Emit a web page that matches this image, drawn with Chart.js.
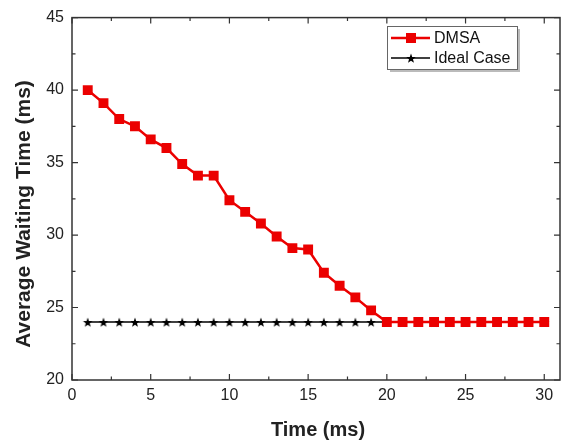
<!DOCTYPE html>
<html>
<head>
<meta charset="utf-8">
<script src="https://cdn.jsdelivr.net/npm/chart.js@4.4.1/dist/chart.umd.min.js"></script>
<style>
  body { margin: 0; background: #fff; }
  #wrap { width: 570px; height: 443px; }
</style>
</head>
<body>
<div id="wrap"><canvas id="chart"></canvas></div>
<script>
// data
var timeMs = [1, 2, 3, 4, 5, 6, 7, 8, 9, 10, 11, 12, 13, 14, 15, 16, 17, 18, 19, 20, 21, 22, 23, 24, 25, 26, 27, 28, 29, 30];
var dmsaValues = [40, 39.1, 38, 37.5, 36.6, 36, 34.9, 34.1, 34.1, 32.4, 31.6, 30.8, 29.9, 29.1, 29.0, 27.4, 26.5, 25.7, 24.8,
    24, 24, 24, 24, 24, 24, 24, 24, 24, 24, 24];
var idealValues = [24, 24, 24, 24, 24, 24, 24, 24, 24, 24, 24, 24, 24, 24, 24, 24, 24, 24, 24,
    24, 24, 24, 24, 24, 24, 24, 24, 24, 24, 24];
var xTicks = [0, 5, 10, 15, 20, 25, 30];
var yTicks = [20, 25, 30, 35, 40, 45];

var redColor = 'rgb(235, 0, 0)';
var blackColor = '#000';
var fontFamily = '"Liberation Sans", Arial, sans-serif';

// filled five point star for the ideal case markers
function makeStar(r) {
    var c = document.createElement('canvas');
    c.width = c.height = r * 2 + 2;
    var g = c.getContext('2d');
    g.fillStyle = blackColor;
    g.beginPath();
    for (var i = 0; i < 10; i++) {
        var rad = i % 2 === 0 ? r : r * 0.42;
        var a = -Math.PI / 2 + i * Math.PI / 5;
        var px = c.width / 2 + rad * Math.cos(a);
        var py = c.height / 2 + 0.6 + rad * Math.sin(a);
        if (i === 0) g.moveTo(px, py); else g.lineTo(px, py);
    }
    g.closePath();
    g.fill();
    return c;
}
var starImg = makeStar(5);

function points(xs, ys) {
    var out = [];
    for (var i = 0; i < xs.length; i++) out.push({x: xs[i], y: ys[i]});
    return out;
}

// box frame, inward ticks on all four sides, axis titles and the inside legend
var framePlugin = {
    id: 'frame',
    afterDatasetsDraw: function (chart) {
        var ctx = chart.ctx, a = chart.chartArea;
        var xs = chart.scales.x, ys = chart.scales.y;
        ctx.save();
        ctx.strokeStyle = '#333';
        ctx.lineWidth = 1.5;
        ctx.strokeRect(a.left, a.top, a.right - a.left, a.bottom - a.top);
        ctx.lineWidth = 1.2;
        ctx.beginPath();
        for (var v = 0; v <= 30; v += 2.5) {
            var px = xs.getPixelForValue(v);
            var len = v % 5 === 0 ? 6 : 3.5;
            ctx.moveTo(px, a.bottom); ctx.lineTo(px, a.bottom - len);
            ctx.moveTo(px, a.top); ctx.lineTo(px, a.top + len);
        }
        for (var w = 20; w <= 45; w += 2.5) {
            var py = ys.getPixelForValue(w);
            var l2 = w % 5 === 0 ? 6 : 3.5;
            ctx.moveTo(a.left, py); ctx.lineTo(a.left + l2, py);
            ctx.moveTo(a.right, py); ctx.lineTo(a.right - l2, py);
        }
        ctx.stroke();

        // axis titles
        ctx.fillStyle = '#222';
        ctx.textAlign = 'center';
        ctx.textBaseline = 'middle';
        ctx.font = 'bold 20px ' + fontFamily;
        ctx.fillText('Time (ms)', 318, 430);
        ctx.save();
        ctx.translate(24, 214);
        ctx.rotate(-Math.PI / 2);
        ctx.font = 'bold 21px ' + fontFamily;
        ctx.fillText('Average Waiting Time (ms)', 0, 0);
        ctx.restore();

        // legend
        var bx = 387, by = 26, bw = 130, bh = 43;
        ctx.textAlign = 'left';
        ctx.fillStyle = '#bbb';
        ctx.fillRect(bx + 3, by + 3, bw, bh);
        ctx.fillStyle = '#fff';
        ctx.fillRect(bx, by, bw, bh);
        ctx.strokeStyle = '#666';
        ctx.lineWidth = 1;
        ctx.strokeRect(bx + 0.5, by + 0.5, bw, bh);

        ctx.font = '16px ' + fontFamily;
        ctx.fillStyle = '#111';
        // DMSA row
        ctx.strokeStyle = redColor;
        ctx.lineWidth = 2.5;
        ctx.beginPath(); ctx.moveTo(391, 38); ctx.lineTo(430, 38); ctx.stroke();
        ctx.fillStyle = redColor;
        ctx.fillRect(406, 33, 10, 10);
        ctx.fillStyle = '#111';
        ctx.fillText('DMSA', 434, 39);
        // Ideal row
        ctx.strokeStyle = blackColor;
        ctx.lineWidth = 1.5;
        ctx.beginPath(); ctx.moveTo(391, 58); ctx.lineTo(430, 58); ctx.stroke();
        ctx.drawImage(starImg, 411 - starImg.width / 2, 58 - starImg.height / 2);
        ctx.fillText('Ideal Case', 434, 59);
        ctx.restore();
    }
};

new Chart(document.getElementById('chart').getContext('2d'), {
    type: 'line',
    data: {
        datasets: [{
            label: 'DMSA',
            data: points(timeMs, dmsaValues),
            borderColor: redColor,
            backgroundColor: redColor,
            borderWidth: 2.5,
            pointStyle: 'rect',
            pointRadius: 7,
            pointBorderWidth: 0,
            pointBackgroundColor: redColor,
            tension: 0
        }, {
            label: 'Ideal Case',
            data: points(timeMs, idealValues),
            borderColor: blackColor,
            borderWidth: 1.5,
            pointStyle: starImg,
            tension: 0
        }]
    },
    options: {
        responsive: true,
        maintainAspectRatio: false,
        animation: false,
        layout: {padding: {top: 17, right: 10, left: 0, bottom: 0}},
        plugins: {legend: {display: false}, tooltip: {enabled: false}},
        scales: {
            x: {
                type: 'linear',
                min: 0,
                max: 31,
                afterBuildTicks: function (s) { s.ticks = xTicks.map(function (v) { return {value: v}; }); },
                afterFit: function (s) { s.height = 63; },
                grid: {display: false, drawTicks: false},
                border: {display: false},
                ticks: {
                    autoSkip: false, maxRotation: 0, padding: 6,
                    color: '#222',
                    font: {family: fontFamily, size: 16}
                }
            },
            y: {
                min: 20,
                max: 45,
                afterBuildTicks: function (s) { s.ticks = yTicks.map(function (v) { return {value: v}; }); },
                afterFit: function (s) { s.width = 72; },
                grid: {display: false, drawTicks: false},
                border: {display: false},
                ticks: {
                    padding: 8,
                    color: '#222',
                    font: {family: fontFamily, size: 16}
                }
            }
        }
    },
    plugins: [framePlugin]
});
</script>
</body>
</html>
